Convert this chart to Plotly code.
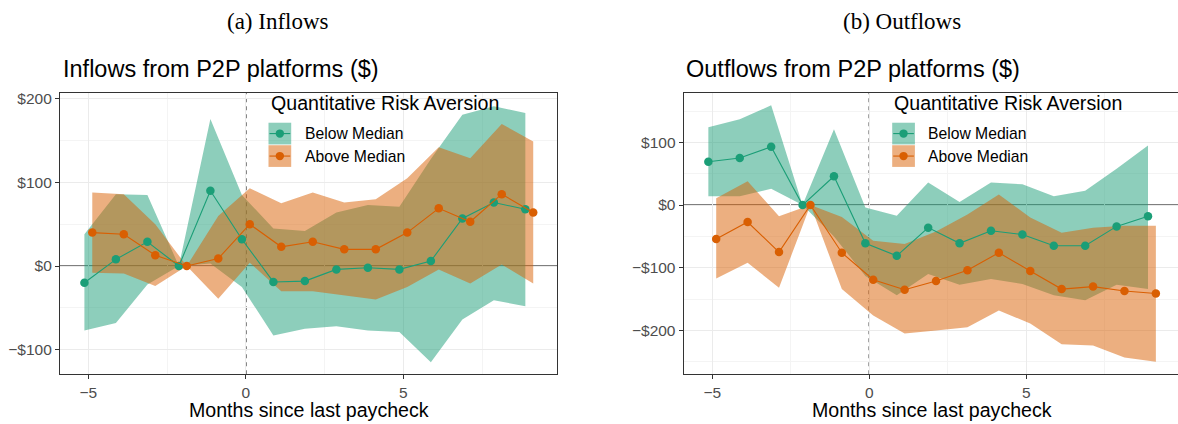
import numpy as np
import plotly.graph_objects as go

# ---------------- data ----------------
months = [-5, -4, -3, -2, -1, 0, 1, 2, 3, 4, 5, 6, 7, 8, 9]

# (a) Inflows
in_below_est = [-20, 8, 29, 0, 90, 32, -19, -18, -4, -2, -4, 6, 57, 76, 68]
in_below_hi = [38, 86, 85, 0, 176, 85, 45, 42, 64, 73, 71, 128, 181, 191, 183]
in_below_lo = [-77, -68, -22, 0, 3, -25, -83, -75, -72, -77, -79, -115, -64, -41, -48]
in_above_est = [40, 38, 13, 0, 9, 50, 23, 29, 20, 20, 40, 69, 53, 86, 64]
in_above_hi = [88, 86, 50, 0, 60, 93, 75, 88, 76, 80, 105, 142, 129, 170, 149]
in_above_lo = [-8, -9, -24, 0, -39, 4, -30, -30, -35, -40, -25, -4, -21, 2, -21]

# (b) Outflows
out_below_est = [69, 75, 93, 0, 46, -61, -81, -36, -61, -41, -47, -65, -65, -34, -18]
out_below_hi = [124, 137, 159, 0, 121, -4, -17, 36, 5, 36, 33, 14, 23, 58, 95]
out_below_lo = [14, 14, 26, 0, -50, -113, -144, -110, -127, -118, -126, -144, -152, -127, -134]
out_above_est = [-54, -27, -75, 0, -76, -119, -135, -121, -104, -76, -105, -134, -130, -137, -141]
out_above_hi = [11, 38, -18, 0, -19, -57, -62, -42, -15, 17, -20, -44, -36, -33, -33]
out_above_lo = [-117, -92, -132, 0, -134, -176, -205, -200, -195, -168, -189, -222, -224, -243, -250]

x_ticks = [-5, 0, 5]
x_tick_labels = ["\u22125", "0", "5"]
in_y_ticks = [-100, 0, 100, 200]
in_y_labels = ["\u2212$100", "$0", "$100", "$200"]
out_y_ticks = [-200, -100, 0, 100]
out_y_labels = ["\u2212$200", "\u2212$100", "$0", "$100"]

group_names = ["Below Median", "Above Median"]
subcaptions = ["(a) Inflows", "(b) Outflows"]
plot_titles = ["Inflows from P2P platforms ($)", "Outflows from P2P platforms ($)"]
legend_title = "Quantitative Risk Aversion"
x_title = "Months since last paycheck"

# ---------------- style ----------------
W, H = 1178, 424
GREEN = "#1B9E77"
ORANGE = "#D95F02"
GREEN_F = "rgba(27,158,119,0.5)"
ORANGE_F = "rgba(217,95,2,0.5)"
SANS = "Liberation Sans, Arial, sans-serif"
SERIF = "Liberation Serif, Times New Roman, serif"
FRAME = "#333333"
GRID = "#EBEBEB"
GRID_MINOR = "#F4F4F4"
DODGE = 0.125

def px_x(p):
    return p / W

def px_y(p):
    return 1 - p / H

fig = go.Figure()

panels = [
    dict(xa="x", ya="y", dom=[60, 557], xr=[-5.9, 9.88], yr=[-129.4, 207.5],
         data=(in_below_est, in_below_hi, in_below_lo, in_above_est, in_above_hi, in_above_lo),
         yt=in_y_ticks, yl=in_y_labels, mirror_y=True),
    dict(xa="x2", ya="y2", dom=[683.7, 1178], xr=[-5.91, 9.83], yr=[-269.8, 179.4],
         data=(out_below_est, out_below_hi, out_below_lo, out_above_est, out_above_hi, out_above_lo),
         yt=out_y_ticks, yl=out_y_labels, mirror_y=False),
]

t = np.array(months, dtype=float)
for p in panels:
    be, bh, bl, ae, ah, al = p["data"]
    xb = t - DODGE
    xo = t + DODGE
    # ribbons
    for xx, hi, lo, col in [(xb, bh, bl, GREEN_F), (xo, ah, al, ORANGE_F)]:
        fig.add_trace(go.Scatter(
            x=list(xx) + list(xx[::-1]), y=list(hi) + list(lo[::-1]),
            fill="toself", fillcolor=col, line=dict(width=0), mode="lines",
            hoverinfo="skip", showlegend=False, xaxis=p["xa"], yaxis=p["ya"]))
    # lines + points
    for xx, est, col, nm in [(xb, be, GREEN, group_names[0]), (xo, ae, ORANGE, group_names[1])]:
        fig.add_trace(go.Scatter(
            x=xx, y=est, mode="lines+markers", name=nm,
            line=dict(color=col, width=1.1), marker=dict(color=col, size=8.5),
            showlegend=False, xaxis=p["xa"], yaxis=p["ya"]))

layout = dict(
    width=W, height=H, autosize=False,
    margin=dict(l=0, r=0, t=0, b=0),
    paper_bgcolor="white", plot_bgcolor="white",
    showlegend=False,
)

ydom = [px_y(374), px_y(91)]
axis_common = dict(
    showline=True, linecolor=FRAME, linewidth=1.2,
    ticks="outside", ticklen=4, tickcolor=FRAME, tickwidth=1,
    tickfont=dict(family=SANS, size=15.5, color="#4D4D4D"),
    showgrid=True, gridcolor=GRID, gridwidth=1.1, zeroline=False,
)
for i, p in enumerate(panels):
    sfx = "" if i == 0 else str(i + 1)
    layout["xaxis" + sfx] = dict(
        axis_common, domain=[px_x(p["dom"][0]), px_x(p["dom"][1])],
        range=p["xr"], tickvals=x_ticks, ticktext=x_tick_labels,
        anchor="y" + sfx, mirror=True,
        minor=dict(tickvals=[-2.5, 2.5, 7.5], showgrid=True, gridcolor=GRID_MINOR,
                   gridwidth=0.8, ticks=""),
    )
    ymin = [v - 50 for v in p["yt"]] + [p["yt"][-1] + 50]
    layout["yaxis" + sfx] = dict(
        axis_common, domain=ydom, range=p["yr"], tickvals=p["yt"], ticktext=p["yl"],
        anchor="x" + sfx, mirror=p["mirror_y"],
        minor=dict(tickvals=ymin, showgrid=True, gridcolor=GRID_MINOR,
                   gridwidth=0.8, ticks=""),
    )
fig.update_layout(**layout)

shapes = []
annotations = []
for i, p in enumerate(panels):
    xa, ya = p["xa"], p["ya"]
    # reference lines
    shapes.append(dict(type="line", xref=xa, yref=ya + " domain", x0=0, x1=0, y0=0, y1=1,
                       line=dict(color="black", width=1.3, dash="4px,4px"), layer="below"))
    shapes.append(dict(type="line", xref=xa + " domain", yref=ya, x0=0, x1=1, y0=0, y1=0,
                       line=dict(color="black", width=1.2), layer="below"))
    left = p["dom"][0]
    # legend (drawn in pixel positions relative to the panel)
    lx = left + 208.5
    annotations.append(dict(text=legend_title, xref="paper", yref="paper",
                            x=px_x(lx), y=px_y(101), xanchor="left", yanchor="middle",
                            showarrow=False, font=dict(family=SANS, size=19.6, color="black")))
    for k, (fc, lc) in enumerate([(GREEN_F, GREEN), (ORANGE_F, ORANGE)]):
        top = 121.3 + k * 22.6
        bot = top + 21.8
        shapes.append(dict(type="rect", xref="paper", yref="paper",
                           x0=px_x(lx), x1=px_x(lx + 22.7), y0=px_y(bot), y1=px_y(top),
                           fillcolor=fc, line=dict(width=0), layer="above"))
        cy = (top + bot) / 2
        shapes.append(dict(type="line", xref="paper", yref="paper",
                           x0=px_x(lx + 1), x1=px_x(lx + 21.7), y0=px_y(cy), y1=px_y(cy),
                           line=dict(color=lc, width=1.1), layer="above"))
        cx = lx + 11.35
        r = 4.2
        shapes.append(dict(type="circle", xref="paper", yref="paper",
                           x0=px_x(cx - r), x1=px_x(cx + r), y0=px_y(cy + r), y1=px_y(cy - r),
                           fillcolor=lc, line=dict(width=0), layer="above"))
        annotations.append(dict(text=group_names[k], xref="paper", yref="paper",
                                x=px_x(lx + 34), y=px_y(cy), xanchor="left", yanchor="middle",
                                showarrow=False, font=dict(family=SANS, size=15.7, color="black")))
    # plot title
    annotations.append(dict(text=plot_titles[i], xref="paper", yref="paper",
                            x=px_x(left + 0.5), y=px_y(67), xanchor="left", yanchor="middle",
                            showarrow=False, font=dict(family=SANS, size=23.5, color="black")))
    # x axis title
    cxp = left + 248.5
    annotations.append(dict(text=x_title, xref="paper", yref="paper",
                            x=px_x(cxp), y=px_y(410), xanchor="center", yanchor="middle",
                            showarrow=False, font=dict(family=SANS, size=19.6, color="black")))
    # subcaption
    annotations.append(dict(text=subcaptions[i], xref="paper", yref="paper",
                            x=px_x(left + 218), y=px_y(20), xanchor="center", yanchor="middle",
                            showarrow=False, font=dict(family=SERIF, size=23, color="black")))

fig.update_layout(shapes=shapes, annotations=annotations)
fig.write_html("out.html", config={"displayModeBar": False},
               post_script="document.body.style.margin='0';")
